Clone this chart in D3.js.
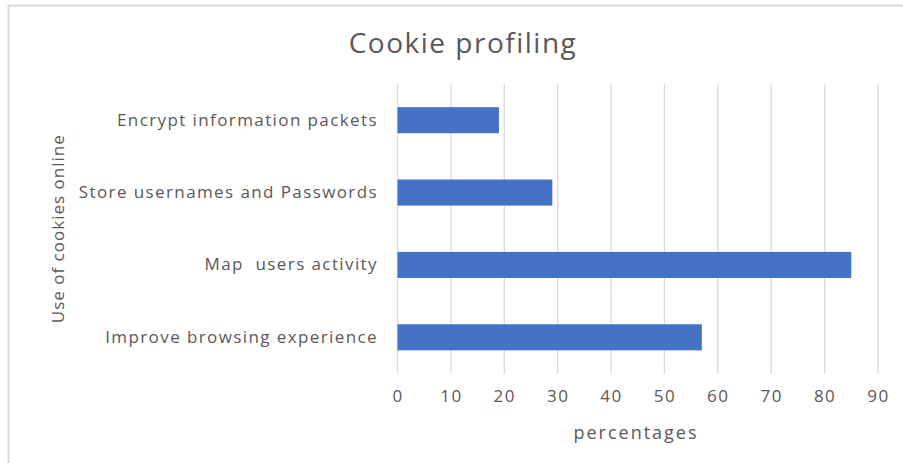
<!DOCTYPE html>
<html>
<head>
<meta charset="utf-8">
<script src="https://cdn.jsdelivr.net/npm/d3@7"></script>
<style>
  html, body { margin: 0; padding: 0; background: #fff; }
  svg { display: block; }
  text { font-family: "Open Sans", "Noto Sans", sans-serif; fill: #595959; white-space: pre; }
</style>
</head>
<body>
<svg id="chart" width="903" height="463"></svg>
<script>
// Uses of cookies, listed top to bottom
const categories = [
  "Encrypt information packets",
  "Store usernames and Passwords",
  "Map  users activity",
  "Improve browsing experience"
];
// Share of respondents (%) for each use
const values = [19, 29, 85, 57];
const xTicks = [0, 10, 20, 30, 40, 50, 60, 70, 80, 90];

const chartTitle = "Cookie profiling";
const xTitle = "percentages";
const yTitle = "Use of cookies online";

const W = 903, H = 463;
const plot = { left: 397.5, right: 878, top: 84, bottom: 373.5 };

const svg = d3.select("#chart");

// chart frame (top and left edges visible)
svg.append("line").attr("x1", 8).attr("x2", W).attr("y1", 5.5).attr("y2", 5.5)
  .attr("stroke", "#d9d9d9").attr("stroke-width", 2);
svg.append("line").attr("x1", 8.5).attr("x2", 8.5).attr("y1", 5).attr("y2", H)
  .attr("stroke", "#d9d9d9").attr("stroke-width", 2);

const x = d3.scaleLinear().domain([0, 90]).range([plot.left, plot.right]);
const y = d3.scaleBand().domain(categories).range([plot.top, plot.bottom])
  .paddingInner(0.64).paddingOuter(0.32);

// vertical gridlines
svg.append("g").selectAll("line").data(xTicks).join("line")
  .attr("x1", d => x(d)).attr("x2", d => x(d))
  .attr("y1", plot.top).attr("y2", plot.bottom)
  .attr("stroke", "#d9d9d9").attr("stroke-width", 1.3);

// bars
svg.append("g").selectAll("rect").data(values).join("rect")
  .attr("x", x(0))
  .attr("y", (d, i) => y(categories[i]))
  .attr("width", d => x(d) - x(0))
  .attr("height", y.bandwidth())
  .attr("fill", "#4472c4");

// x-axis tick labels
const xAxis = d3.axisBottom(x).tickValues(xTicks).tickSize(0).tickPadding(0);
const gx = svg.append("g").attr("transform", `translate(0,${plot.bottom + 23})`).call(xAxis);
gx.select(".domain").remove();
gx.selectAll("text").attr("font-size", 17).attr("fill", "#595959")
  .attr("letter-spacing", 1.5)
  .style("font-family", '"Open Sans", sans-serif').attr("dy", "0.35em").attr("y", 0);

// category labels
const yAxis = d3.axisLeft(y).tickSize(0).tickPadding(0);
const gy = svg.append("g").attr("transform", `translate(${378},0)`).call(yAxis);
gy.select(".domain").remove();
gy.selectAll("text").attr("font-size", 17).attr("fill", "#595959")
  .attr("letter-spacing", 1.4)
  .style("font-family", '"Open Sans", sans-serif').style("white-space", "pre").attr("x", 0);

// titles
svg.append("text").attr("x", 463).attr("y", 42).attr("text-anchor", "middle")
  .attr("dominant-baseline", "central").attr("font-size", 28)
  .attr("letter-spacing", 1.5).text(chartTitle);
svg.append("text").attr("x", 636).attr("y", 432).attr("text-anchor", "middle")
  .attr("dominant-baseline", "central").attr("font-size", 18)
  .attr("letter-spacing", 2).text(xTitle);
svg.append("text").attr("transform", `translate(57,${(plot.top + plot.bottom) / 2}) rotate(-90)`)
  .attr("text-anchor", "middle").attr("dominant-baseline", "central")
  .attr("font-size", 17).attr("letter-spacing", 1).text(yTitle);
</script>
</body>
</html>
